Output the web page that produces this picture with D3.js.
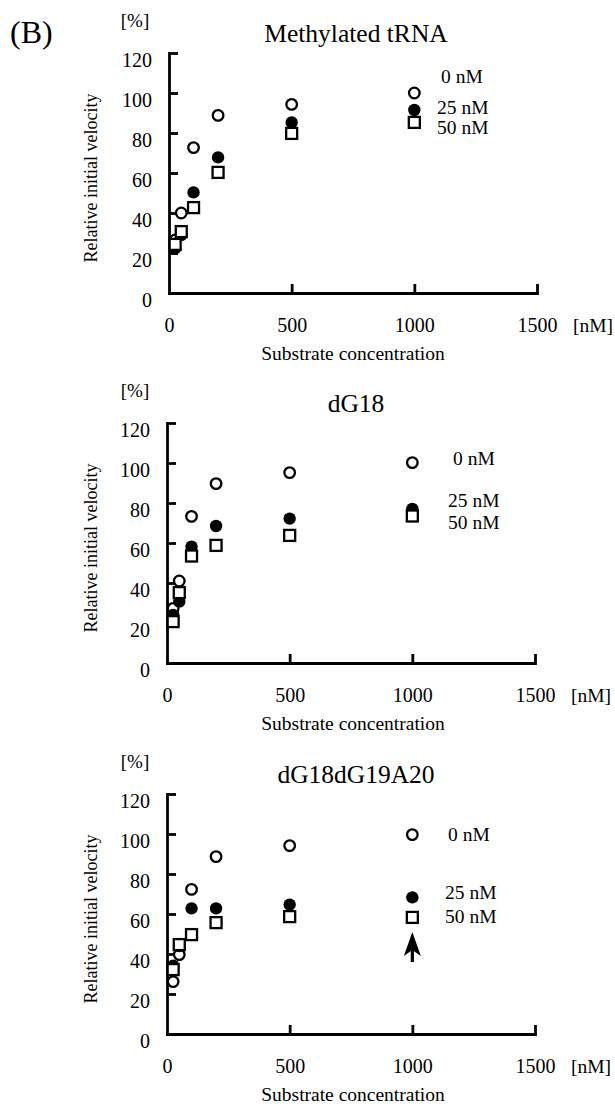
<!DOCTYPE html>
<html>
<head>
<meta charset="utf-8">
<script src="https://cdn.jsdelivr.net/npm/d3@7"></script>
<style>
  body { margin: 0; background: #fff; }
  svg { display: block; }
  svg text { font-family: "Liberation Serif", "Times New Roman", Times, serif; fill: #000; }
  .axis path, .axis line { stroke: #000; stroke-width: 2.8; }
  .axis text { font-size: 20px; }
</style>
</head>
<body>
<svg id="chart" width="615" height="1106"></svg>
<script>
// substrate concentrations [nM]
const concentrations = [25, 50, 100, 200, 500, 1000];

// relative initial velocity [%], inhibitor 0 / 25 / 50 nM
const methylated0nM  = [26.5, 40.0, 72.7, 88.8, 94.3, 100.0];
const methylated25nM = [22.3, 29.0, 50.3, 67.8, 85.3, 91.5];
const methylated50nM = [24.3, 30.7, 42.7, 60.3, 79.8, 85.3];

const dG18_0nM  = [27.3, 41.0, 73.3, 89.7, 95.2, 100.2];
const dG18_25nM = [24.0, 30.7, 58.2, 68.5, 72.2, 77.0];
const dG18_50nM = [20.7, 35.2, 53.5, 58.8, 63.8, 73.5];

const dG18dG19A20_0nM  = [26.2, 39.7, 72.3, 88.7, 94.2, 99.7];
const dG18dG19A20_25nM = [34.2, 44.0, 62.8, 62.8, 64.7, 68.3];
const dG18dG19A20_50nM = [32.2, 44.7, 49.7, 55.7, 58.7, 58.3];

const panelTitles = ["Methylated tRNA", "dG18", "dG18dG19A20"];
const legendLabels = ["0 nM", "25 nM", "50 nM"];
const xTicks = [0, 500, 1000, 1500];
const yTicks = [0, 20, 40, 60, 80, 100, 120];

// arrow in the third panel: at 1000 nM, from 36 % up to 51 %
const arrowX = 1000, arrowFrom = 36, arrowTo = 51;

const panels = [
  { title: panelTitles[0], series: [methylated0nM, methylated25nM, methylated50nM],
    x0: 169, bottom: 293, legend: [[441, 22.5], [437, 54], [437, 74]] },
  { title: panelTitles[1], series: [dG18_0nM, dG18_25nM, dG18_50nM],
    x0: 167, bottom: 663, legend: [[453, 35], [448, 77], [448, 98.7]] },
  { title: panelTitles[2], series: [dG18dG19A20_0nM, dG18dG19A20_25nM, dG18dG19A20_50nM],
    x0: 167, bottom: 1034, legend: [[448, 40], [445, 97.7], [445, 121.7]], arrow: true }
];

const serif = "Liberation Serif, Times New Roman, serif";
const width = 368, height = 240;
const svg = d3.select("#chart").attr("font-family", serif);

svg.append("text")
   .attr("x", 10).attr("y", 43)
   .attr("font-size", 32)
   .text("(B)");

panels.forEach(p => {
  const top = p.bottom - height;
  const x = d3.scaleLinear().domain([0, 1500]).range([p.x0, p.x0 + width]);
  const y = d3.scaleLinear().domain([0, 120]).range([p.bottom, top]);

  // y axis, ticks pointing inward
  const yAxis = svg.append("g")
     .attr("class", "axis")
     .attr("transform", `translate(${p.x0},0)`)
     .call(d3.axisLeft(y).tickValues(yTicks).tickFormat(d3.format("d"))
             .tickSizeInner(-9).tickSizeOuter(0).tickPadding(17))
     .attr("font-family", serif).attr("font-size", 20);
  yAxis.selectAll("text").attr("dy", null).attr("y", 13.5);
  yAxis.select(".domain").attr("stroke-linecap", "square");

  // x axis
  const xAxis = svg.append("g")
     .attr("class", "axis")
     .attr("transform", `translate(0,${p.bottom})`)
     .call(d3.axisBottom(x).tickValues(xTicks).tickFormat(d3.format("d"))
             .tickSizeInner(-9).tickSizeOuter(0))
     .attr("font-family", serif).attr("font-size", 20);
  xAxis.selectAll("text").attr("dy", null).attr("y", 39);
  xAxis.selectAll(".tick").filter(d => d === 0).select("line").remove();
  xAxis.select(".domain").attr("stroke-linecap", "square");

  svg.append("text")
     .attr("x", x(1500) + 36).attr("y", p.bottom + 39)
     .attr("font-size", 19.5)
     .text("[nM]");

  svg.append("text")
     .attr("x", 353).attr("y", p.bottom + 67)
     .attr("text-anchor", "middle")
     .attr("font-size", 19.5)
     .text("Substrate concentration");

  svg.append("text")
     .attr("transform", `translate(97,${top + height / 2 + 5})rotate(-90)`)
     .attr("text-anchor", "middle")
     .attr("font-size", 18)
     .text("Relative initial velocity");

  svg.append("text")
     .attr("x", 135).attr("y", top - 26)
     .attr("text-anchor", "middle")
     .attr("font-size", 19)
     .text("[%]");

  svg.append("text")
     .attr("x", 356).attr("y", top - 11)
     .attr("text-anchor", "middle")
     .attr("font-size", 25.5)
     .text(p.title);

  // 0 nM: open circles
  svg.append("g").selectAll("circle")
     .data(concentrations.map((c, i) => [c, p.series[0][i]]))
     .join("circle")
     .attr("cx", d => x(d[0])).attr("cy", d => y(d[1]))
     .attr("r", 5.3)
     .attr("fill", "#fff").attr("stroke", "#000").attr("stroke-width", 2.3);

  // 25 nM: filled circles
  svg.append("g").selectAll("circle")
     .data(concentrations.map((c, i) => [c, p.series[1][i]]))
     .join("circle")
     .attr("cx", d => x(d[0])).attr("cy", d => y(d[1]))
     .attr("r", 6.2)
     .attr("fill", "#000");

  // 50 nM: open squares
  svg.append("g").selectAll("rect")
     .data(concentrations.map((c, i) => [c, p.series[2][i]]))
     .join("rect")
     .attr("x", d => x(d[0]) - 5.5).attr("y", d => y(d[1]) - 5.5)
     .attr("width", 11).attr("height", 11)
     .attr("fill", "#fff").attr("stroke", "#000").attr("stroke-width", 2.3);

  legendLabels.forEach((lab, i) => {
    svg.append("text")
       .attr("x", p.legend[i][0]).attr("y", top + p.legend[i][1] + 7)
       .attr("font-size", 19.5)
       .text(lab);
  });

  if (p.arrow) {
    const ax = x(arrowX), yTip = y(arrowTo), yTail = y(arrowFrom);
    svg.append("line")
       .attr("x1", ax).attr("x2", ax)
       .attr("y1", yTip + 14).attr("y2", yTail)
       .attr("stroke", "#000").attr("stroke-width", 3.2);
    svg.append("path")
       .attr("d", `M${ax},${yTip} L${ax + 8.5},${yTip + 24} L${ax},${yTip + 18} L${ax - 8.5},${yTip + 24} Z`)
       .attr("fill", "#000");
  }
});
</script>
</body>
</html>
